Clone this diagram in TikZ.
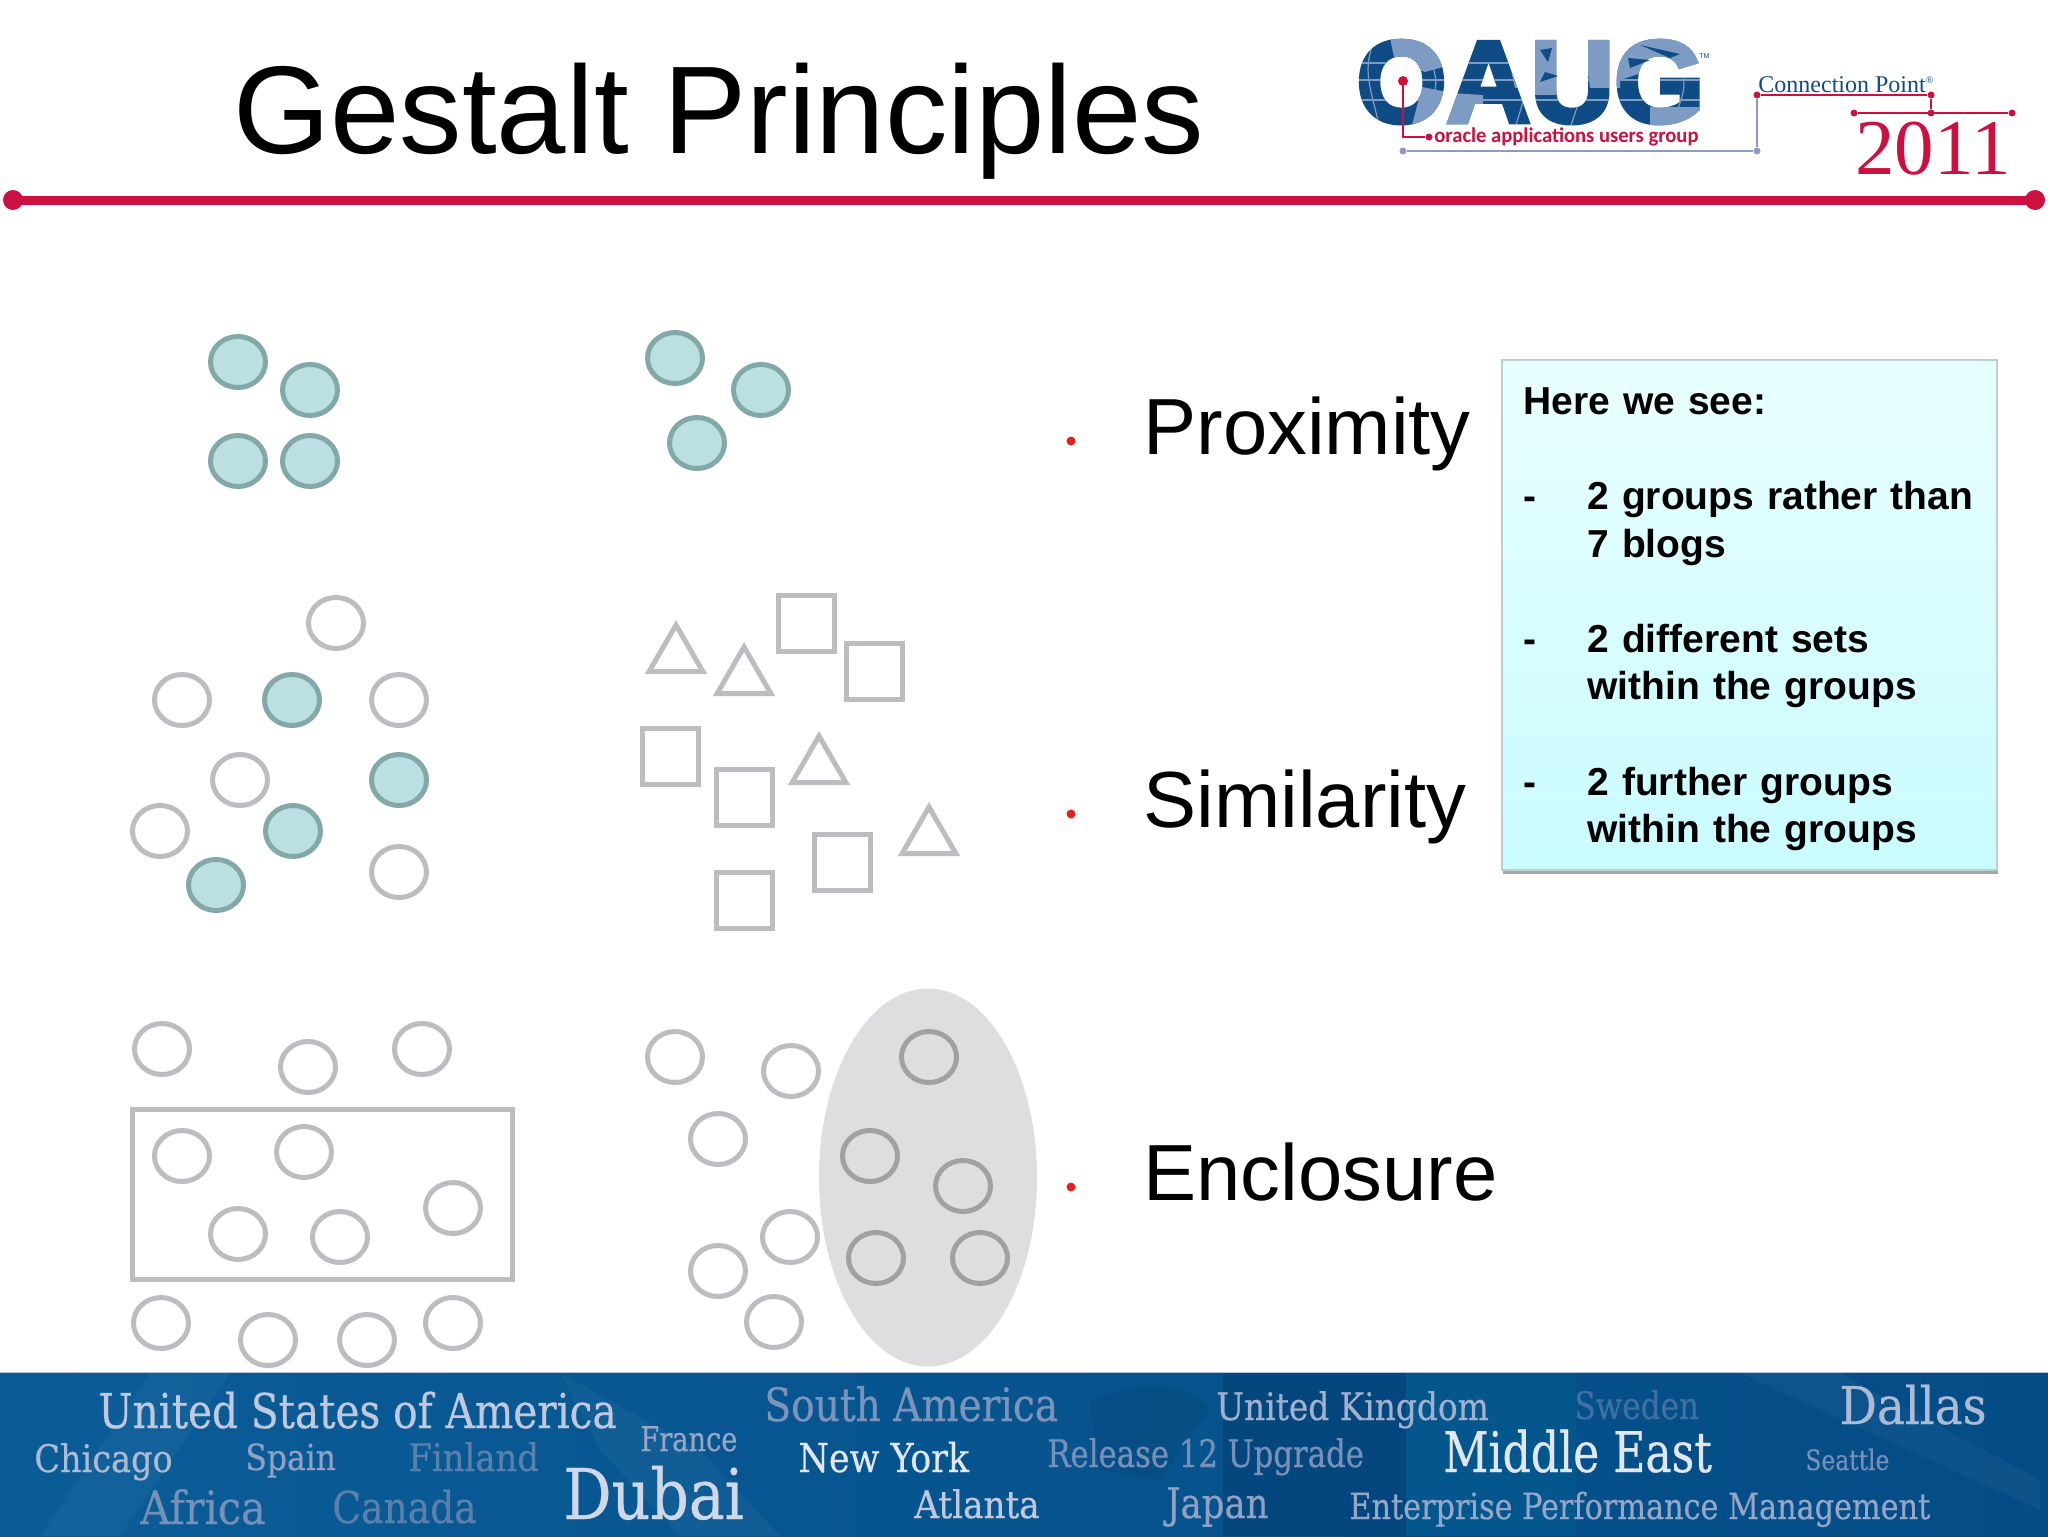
\documentclass[tikz,border=0pt]{standalone}
\usepackage{fontspec}
\setmainfont{Liberation Sans}
\newfontfamily\seriffont{Liberation Serif}
\newfontfamily\bandfont{DejaVu Serif Condensed}[FakeBold=0.5]
\newfontfamily\logofont{Liberation Sans}[BoldFeatures={FakeBold=4}]
\newfontfamily\tagfont{Carlito}
\usetikzlibrary{arrows.meta, positioning, shapes.geometric, calc, shadows}
\definecolor{cred}{HTML}{CC1140}
\definecolor{cdot}{HTML}{E3211F}
\definecolor{cring}{HTML}{BDBCC0}
\definecolor{cteal}{HTML}{83A8A8}
\definecolor{ctealfill}{HTML}{BCE0E2}
\definecolor{coval}{HTML}{DEDDE0}
\definecolor{cnavy}{HTML}{0F4B85}
\definecolor{cland}{HTML}{7E9BC3}
\definecolor{cslate}{HTML}{8A9CC0}
\definecolor{cband}{HTML}{044C86}
\definecolor{cbandleft}{HTML}{0A5C97}
\definecolor{cboxtop}{HTML}{E9FFFF}
\definecolor{cboxbot}{HTML}{C9FBFF}
\tikzset{
  ring/.style={ellipse, draw=cring, line width=2.5pt, minimum width=27.5pt, minimum height=25.5pt, inner sep=0pt},
  blob/.style={ring, draw=cteal, fill=ctealfill},
  tri/.style={regular polygon, regular polygon sides=3, draw=cring, line width=2.5pt, minimum size=31pt, inner sep=0pt},
  sq/.style={rectangle, draw=cring, line width=2.5pt, minimum size=28pt, inner sep=0pt},
  label/.style={anchor=base west, inner sep=0pt, font=\fontsize{39.8}{40}\selectfont},
  bullet/.style={circle, fill=cdot, inner sep=0pt, minimum size=4.5pt},
  stud/.style={circle, fill=#1, inner sep=0pt, minimum size=5pt},
  stud/.default=cred,
  bandword/.style 2 args={anchor=base west, inner sep=0pt, transform shape, text=#2, font=\bandfont\fontsize{#1}{#1}\selectfont},
}
\begin{document}
\begin{tikzpicture}[x=0.5pt, y=-0.5pt]
  \useasboundingbox (0,0) rectangle (2048,1536);
  \fill[white] (0,0) rectangle (2048,1536);
  % header
  \node[anchor=base west, inner sep=0pt, font=\fontsize{62.4}{62}\selectfont] (title) at (233,154) {Gestalt Principles};
  \node[circle, fill=cred, inner sep=0pt, minimum size=10pt] (ruleL) at (13,200) {};
  \node[circle, fill=cred, inner sep=0pt, minimum size=10pt] (ruleR) at (2035,200) {};
  \draw[cred, line width=4.5pt, shorten <=-2pt, shorten >=-2pt] (ruleL) -- (ruleR);
  % logo
  \node[anchor=base west, inner sep=0pt, text=cnavy, font=\logofont\bfseries\fontsize{58}{58}\selectfont] (oaug) at (1356,122) {OAUG};
  \begin{scope}[blend mode=lighten]
    \fill[cland] (1390,38) -- (1440,38) -- (1450,65) -- (1425,72) -- (1395,62) -- cycle;
    \fill[cland] (1422,87) -- (1447,92) -- (1442,125) -- (1412,125) -- cycle;
    \fill[cland] (1450,93) -- (1483,95) -- (1483,125) -- (1445,125) -- cycle;
    \fill[cland] (1510,66) -- (1530,66) -- (1535,88) -- (1515,88) -- cycle;
    \fill[cland] (1532,38) -- (1563,38) -- (1563,95) -- (1532,95) -- cycle;
    \fill[cland] (1583,38) -- (1620,38) -- (1620,88) -- (1590,88) -- cycle;
    \fill[cland] (1620,36) -- (1700,36) -- (1700,70) -- (1650,70) -- (1620,80) -- cycle;
    \fill[cland] (1650,107) -- (1700,107) -- (1700,128) -- (1650,128) -- cycle;
    \draw[cland, line width=0.6pt] (1355,63) -- (1700,63) (1355,80) -- (1700,80) (1355,100) -- (1700,100);
    \draw[cland, line width=0.6pt] (1375,35) .. controls (1365,70) .. (1380,128) (1420,35) .. controls (1440,80) .. (1425,128);
    \draw[cland, line width=0.6pt] (1470,35) .. controls (1450,80) .. (1465,128) (1510,35) .. controls (1530,80) .. (1515,128);
    \draw[cland, line width=0.6pt] (1575,35) .. controls (1590,70) .. (1570,128) (1660,35) .. controls (1690,80) .. (1670,128);
  \end{scope}
  \fill[cnavy] (1540,50) -- (1552,48) -- (1548,62) -- cycle (1545,72) -- (1558,76) -- (1540,82) -- cycle;
  \fill[cnavy] (1640,45) -- (1680,54) -- (1670,58) -- cycle (1628,58) -- (1650,60) -- (1630,68) -- cycle;
  \node[anchor=base west, inner sep=0pt, text=cnavy, font=\fontsize{3.5}{3.5}\selectfont] (tm) at (1699,59) {TM};
  \node[stud] (oDot) at (1403,81) {};
  \coordinate (oBend) at (1403,137);
  \node[stud, minimum size=3.5pt] (tagDot) at (1429,137) {};
  \draw[cred, line width=1pt] (oDot) -- (oBend) -- (tagDot);
  \node[anchor=base west, inner sep=0pt, text=cred, transform shape, xscale=0.98, font=\tagfont\bfseries\fontsize{10.5}{10.5}\selectfont] (tag) at (1434,142) {oracle applications users group};
  \node[stud=cslate, minimum size=3.5pt] (slateA) at (1403,151) {};
  \node[stud=cslate, minimum size=3.5pt] (slateB) at (1757,151) {};
  \draw[cslate, line width=1pt] (slateA) -- (slateB);
  \node[stud, minimum size=3.5pt] (connA) at (1757,95) {};
  \node[stud, minimum size=3.5pt] (connB) at (1931,95) {};
  \node[stud, minimum size=3.5pt] (yearL) at (1854,113) {};
  \node[stud, minimum size=3.5pt] (yearM) at (1931,113) {};
  \node[stud, minimum size=3.5pt] (yearR) at (2012,113) {};
  \draw[cslate, line width=1pt] (slateB) -- (connA);
  \draw[cred, line width=1pt] (connA) -- (connB) -- (yearM);
  \draw[cred, line width=1pt] (yearL) -- (yearR);
  \node[anchor=base west, inner sep=0pt, text=cnavy, font=\seriffont\fontsize{12}{12}\selectfont] (conn) at (1758,92) {Connection Point\textsuperscript{\fontsize{5}{5}\selectfont ®}};
  \node[anchor=base west, inner sep=0pt, text=cred, font=\seriffont\fontsize{39.5}{39.5}\selectfont] (year) at (1855,174) {2011};
  % proximity
  \node[blob] (p1) at (238,362) {};
  \node[blob] (p2) at (310,390) {};
  \node[blob] (p3) at (238,461) {};
  \node[blob] (p4) at (310,461) {};
  \node[blob] (p5) at (675,358) {};
  \node[blob] (p6) at (761,390) {};
  \node[blob] (p7) at (697,443) {};
  % similarity
  \node[ring] (s1) at (336,623) {};
  \node[ring] (s2) at (182,700) {};
  \node[blob] (s3) at (292,700) {};
  \node[ring] (s4) at (399,700) {};
  \node[ring] (s5) at (240,780) {};
  \node[blob] (s6) at (399,780) {};
  \node[ring] (s7) at (160,831) {};
  \node[blob] (s8) at (293,831) {};
  \node[blob] (s9) at (216,885) {};
  \node[ring] (s10) at (399,872) {};
  \node[tri] (t1) at (676,656) {};
  \node[tri] (t2) at (744,678) {};
  \node[tri] (t3) at (819,767) {};
  \node[tri] (t4) at (929,838) {};
  \node[sq] (q1) at (806,623) {};
  \node[sq] (q2) at (874,671) {};
  \node[sq] (q3) at (670,756) {};
  \node[sq] (q4) at (744,797) {};
  \node[sq] (q5) at (842,862) {};
  \node[sq] (q6) at (744,900) {};
  % enclosure
  \node[rectangle, draw=cring, line width=2.5pt, minimum width=190pt, minimum height=85pt, inner sep=0pt] (encl) at (322.5,1194.5) {};
  \node[ring] (e1) at (162,1049) {};
  \node[ring] (e2) at (308,1067) {};
  \node[ring] (e3) at (422,1049) {};
  \node[ring] (e4) at (182,1156) {};
  \node[ring] (e5) at (304,1152) {};
  \node[ring] (e6) at (453,1208) {};
  \node[ring] (e7) at (238,1234) {};
  \node[ring] (e8) at (340,1237) {};
  \node[ring] (e9) at (161,1323) {};
  \node[ring] (e10) at (268,1340) {};
  \node[ring] (e11) at (367,1340) {};
  \node[ring] (e12) at (453,1323) {};
  \node[ellipse, fill=coval, inner sep=0pt, minimum width=109pt, minimum height=189pt] (oval) at (928,1177.5) {};
  \node[ring] (f1) at (675,1057) {};
  \node[ring] (f2) at (791,1071) {};
  \node[ring, draw=cring!85!black] (f3) at (929,1057) {};
  \node[ring] (f4) at (718,1139) {};
  \node[ring, draw=cring!85!black] (f5) at (870,1156) {};
  \node[ring, draw=cring!85!black] (f6) at (963,1186) {};
  \node[ring] (f7) at (790,1237) {};
  \node[ring] (f8) at (718,1271) {};
  \node[ring, draw=cring!85!black] (f9) at (876,1258) {};
  \node[ring, draw=cring!85!black] (f10) at (980,1258) {};
  \node[ring] (f11) at (774,1322) {};
  % bullets and labels
  \node[bullet] (b1) at (1071,441) {};
  \node[bullet] (b2) at (1071,814) {};
  \node[bullet] (b3) at (1071,1187) {};
  \node[label] (l1) at (1143,454) {Proximity};
  \node[label] (l2) at (1143,827) {Similarity};
  \node[label] (l3) at (1143,1200) {Enclosure};
  % call-out
  \node[rectangle, draw=cteal!55, top color=cboxtop, bottom color=cboxbot, line width=1pt,
    drop shadow={shadow xshift=0.5pt, shadow yshift=-2pt, opacity=.35, fill=black},
    minimum width=247.5pt, minimum height=255pt, inner sep=0pt] (callout) at (1749,614.5) {};
  \node[anchor=north west, inner sep=0pt, text width=230pt, align=left, font=\bfseries\fontsize{19.5}{23.8}\selectfont] (note) at (1523,387) {Here we see:\\[23.8pt]
    \makebox[32pt][l]{-}2 groups rather than\\\hspace*{32pt}7 blogs\\[23.8pt]
    \makebox[32pt][l]{-}2 different sets\\\hspace*{32pt}within the groups\\[23.8pt]
    \makebox[32pt][l]{-}2 further groups\\\hspace*{32pt}within the groups};
  % footer band
  \shade[left color=cbandleft, right color=cband] (0,1373) rectangle (2048,1536);
  \fill[cband!94!black] (1223,1373) rectangle (1406,1536);
  \fill[cband!94!cyan] (1406,1373) rectangle (1576,1536);
  \draw[cland!60, line width=0.5pt] (0,1372.5) -- (2048,1372.5);
  \fill[white, opacity=.04] (150,1373) -- (230,1373) -- (120,1536) -- (40,1536) -- cycle;
  \fill[white, opacity=.04] (560,1373) -- (700,1450) -- (780,1536) -- (680,1536) -- (600,1450) -- cycle;
  \fill[white, opacity=.04] (1740,1373) -- (1840,1373) -- (2040,1480) -- (2040,1510) -- cycle;
  \fill[black, opacity=.06] (1090,1400) .. controls (1140,1380) and (1190,1380) .. (1210,1410) -- (1160,1480) -- (1100,1470) -- cycle;
  \node[bandword={24}{cslate!55!white}, xscale=.94] (w1) at (98,1428) {United States of America};
  \node[bandword={19}{cslate!70!white}, xscale=.98] (w2) at (34,1472) {Chicago};
  \node[bandword={18}{cslate!95!white}, xscale=.97] (w3) at (245,1470) {Spain};
  \node[bandword={19}{cslate!65!cband}, xscale=.99] (w4) at (408,1471) {Finland};
  \node[bandword={17}{cslate!90!white}, xscale=.89] (w5) at (640,1451) {France};
  \node[bandword={35}{cslate!40!white}, xscale=.955] (w6) at (563,1519) {Dubai};
  \node[bandword={23}{cslate!85!cband}] (w7) at (140,1524) {Africa};
  \node[bandword={22}{cslate!65!cband}, xscale=.95] (w8) at (332,1523) {Canada};
  \node[bandword={23}{cslate!90!cband}, xscale=.945] (w9) at (764,1421) {South America};
  \node[bandword={20}{cslate!25!white}, xscale=.97] (w10) at (798,1472) {New York};
  \node[bandword={19}{cslate!55!white}] (w11) at (914,1518) {Atlanta};
  \node[bandword={19}{cslate!80!white}, xscale=.96] (w12) at (1216,1420) {United Kingdom};
  \node[bandword={19}{cslate!45!cband}, xscale=.91] (w13) at (1574,1419) {Sweden};
  \node[bandword={26}{cslate!70!white}] (w14) at (1839,1424) {Dallas};
  \node[bandword={19}{cslate!85!cband}, xscale=.9] (w15) at (1047,1467) {Release 12 Upgrade};
  \node[bandword={28}{cslate!25!white}, xscale=.875] (w16) at (1443,1472) {Middle East};
  \node[bandword={14}{cslate!85!cband}, xscale=.93] (w17) at (1805,1470) {Seattle};
  \node[bandword={21}{cslate!95!white}, xscale=.94] (w18) at (1166,1518) {Japan};
  \node[bandword={18}{cslate!90!white}, xscale=.935] (w19) at (1349,1519) {Enterprise Performance Management};
\end{tikzpicture}
\end{document}
